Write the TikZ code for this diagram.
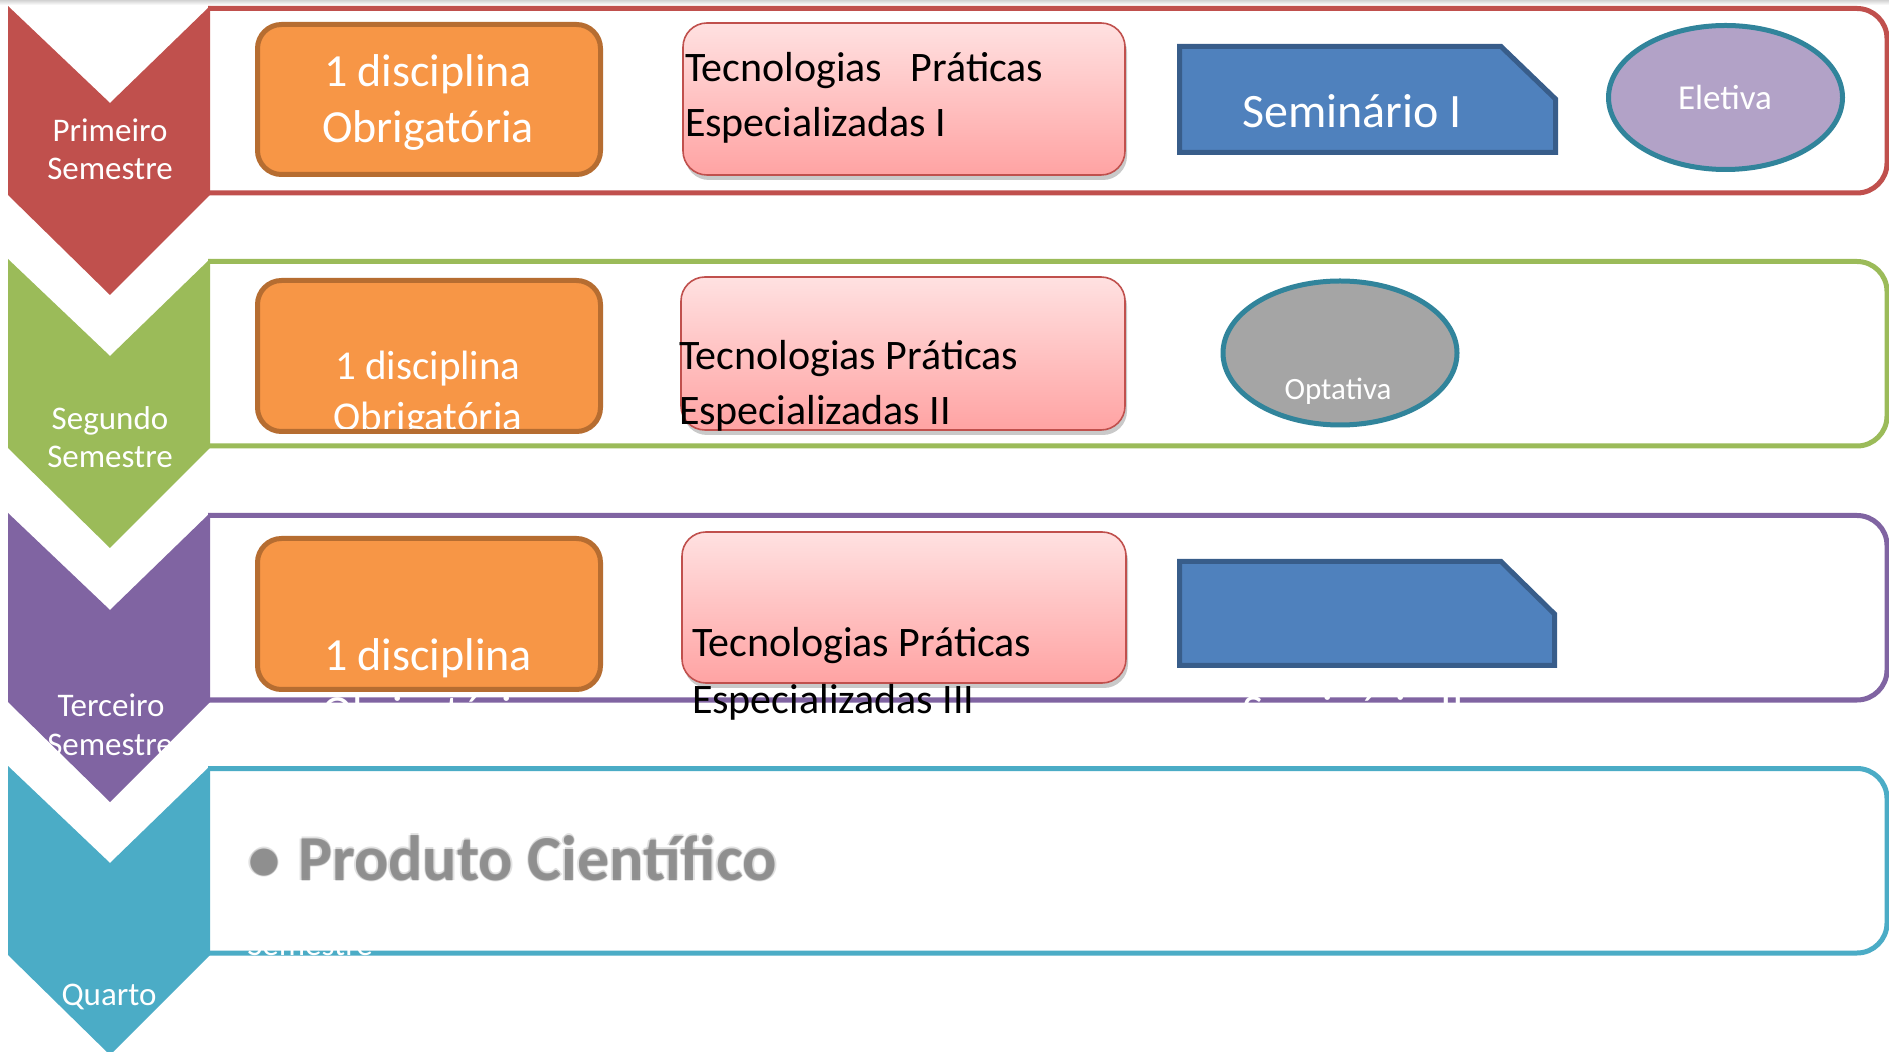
\documentclass[tikz,border=0pt]{standalone}
\usepackage{fontspec}
\setmainfont{Carlito}
\usetikzlibrary{shapes.geometric,shadows}
\definecolor{cRed}{HTML}{C0504D}
\definecolor{cGreen}{HTML}{9BBB59}
\definecolor{cPurple}{HTML}{8064A2}
\definecolor{cAqua}{HTML}{4BACC6}
\definecolor{cOrF}{HTML}{F79646}
\definecolor{cOrD}{HTML}{B66D31}
\definecolor{cBlF}{HTML}{4F81BD}
\definecolor{cBlD}{HTML}{385D8A}
\definecolor{cTeal}{HTML}{31849B}
\definecolor{cLil}{HTML}{B2A2C7}
\definecolor{cGry}{HTML}{A5A5A5}
\definecolor{cPkT}{HTML}{FFE1E1}
\definecolor{cPkB}{HTML}{FFA3A3}
\definecolor{cProd}{HTML}{8A8A8A}
\newcommand\fsz[1]{\fontsize{#1pt}{#1pt}\selectfont}
\begin{document}
\begin{tikzpicture}[x=0.5pt,y=-0.5pt,
 band/.style={draw=#1, line width=2.5pt, rounded corners=15pt},
 chev/.style={fill=#1},
 obox/.style={rectangle, fill=cOrF, draw=cOrD, line width=2.5pt, rounded corners=12pt, inner sep=0pt},
 pbox/.style={rectangle, top color=cPkT, bottom color=cPkB, draw=cRed, line width=0.8pt, rounded corners=12pt, inner sep=0pt,
   drop shadow={shadow xshift=1pt, shadow yshift=-2.5pt, opacity=0.35, fill=black!60}},
 semi/.style={fill=cBlF, draw=cBlD, line width=2.5pt},
 ell/.style={ellipse, draw=cTeal, line width=2.5pt, fill=#1, minimum width=117pt, minimum height=72pt, inner sep=0pt},
 txt/.style={inner sep=0pt, outer sep=0pt, anchor=base, text=white},
 ltxt/.style={inner sep=0pt, outer sep=0pt, anchor=base west, text=black}
]
\useasboundingbox (0,0) rectangle (1889,1052);
\fill[white] (0,0) rectangle (1889,1052);
\shade[top color=gray!35, bottom color=white] (0,0) rectangle (1889,5);

% bands (left end hidden under the chevrons)
\draw[band=cRed]    (208,8.5)   -- (1887,8.5)   -- (1887,193) -- (208,193);
\draw[band=cGreen]  (208,261.5) -- (1887,261.5) -- (1887,446) -- (208,446);
\draw[band=cPurple] (208,515.5) -- (1887,515.5) -- (1887,700) -- (208,700);
\draw[band=cAqua]   (208,768.5) -- (1887,768.5) -- (1887,953) -- (208,953);

% chevrons
\fill[chev=cRed]    (8,6)   -- (110,103) -- (210,6)   -- (210,195) -- (110,295)  -- (8,195) -- cycle;
\fill[chev=cGreen]  (8,259) -- (110,356) -- (210,259) -- (210,448) -- (110,548)  -- (8,448) -- cycle;
\fill[chev=cPurple] (8,513) -- (110,610) -- (210,513) -- (210,702) -- (110,802)  -- (8,702) -- cycle;
\fill[chev=cAqua]   (8,766) -- (110,863) -- (210,766) -- (210,955) -- (110,1055) -- (8,955) -- cycle;

% orange boxes
\node[obox, minimum width=171.5pt, minimum height=75pt]   (ob1) at (429,99.5) {};
\node[obox, minimum width=171.5pt, minimum height=75.5pt] (ob2) at (429,356) {};
\node[obox, minimum width=171.5pt, minimum height=75.5pt] (ob3) at (429,614) {};

% pink boxes
\node[pbox, minimum width=221pt, minimum height=76pt]   (pk1) at (904,99) {};
\node[pbox, minimum width=222pt, minimum height=76.5pt] (pk2) at (903,353.5) {};
\node[pbox, minimum width=222pt, minimum height=75.5pt] (pk3) at (904,607.5) {};

% seminario shapes
\draw[semi] (1179.5,46.5) -- (1501,46.5) -- (1555.5,99) -- (1555.5,152.5) -- (1179.5,152.5) -- cycle;
\draw[semi] (1179.5,561.5) -- (1501,561.5) -- (1554.5,614) -- (1554.5,665.5) -- (1179.5,665.5) -- cycle;

% ellipses
\node[ell=cLil] (el1) at (1725.5,97.5) {};
\node[ell=cGry] (op2) at (1340,353) {};

% ---- texts ----
% row 1
\node[txt, font=\fsz{16.5}] (l1a) at (110,142) {Primeiro};
\node[txt, font=\fsz{16.5}] (l1b) at (110,180) {Semestre};
\node[txt, font=\fsz{23}] (o1a) at (428,87) {1 disciplina};
\node[txt, font=\fsz{23}] (o1b) at (428,143) {Obrigatória};
\node[ltxt, font=\fsz{21}] (p1a) at (685,82) {Tecnologias\ \ \ Práticas};
\node[ltxt, font=\fsz{21}] (p1b) at (685,137) {Especializadas I};
\node[txt, font=\fsz{24}] (s1) at (1352,128) {Seminário I};
\node[txt, font=\fsz{17.5}] (e1) at (1725,110) {Eletiva};

% row 2
\node[txt, font=\fsz{16.5}] (l2a) at (110,430) {Segundo};
\node[txt, font=\fsz{16.5}] (l2b) at (110,468) {Semestre};
\begin{scope}
\clip (260,283) rectangle (598,429);
\node[txt, font=\fsz{20.5}] (o2a) at (428,380) {1 disciplina};
\node[txt, font=\fsz{20.5}] (o2b) at (428,431) {Obrigatória};
\end{scope}
\node[ltxt, font=\fsz{21}] (p2a) at (679,370) {Tecnologias Práticas};
\node[ltxt, font=\fsz{21}] (p2b) at (679,425) {Especializadas II};
\node[txt, font=\fsz{15.5}] (e2) at (1338,400) {Optativa};

% row 3
\node[txt, font=\fsz{16.5}] (l3a) at (111,717) {Terceiro};
\node[txt, font=\fsz{16.5}] (l3b) at (110,755) {Semestre};
\node[txt, font=\fsz{23}] (o3a) at (428,671) {1 disciplina};
\node[txt, font=\fsz{23}] (o3b) at (428,727) {Obrigatória};
\node[ltxt, font=\fsz{21}] (p3a) at (692,657) {Tecnologias Práticas};
\node[ltxt, font=\fsz{21}] (p3b) at (692,713) {Especializadas III};
\node[txt, font=\fsz{23}] (s3) at (1353,726) {Seminário II};

% row 4
\node[txt, font=\fsz{16.5}] (l4a) at (109,1005) {Quarto};
\node[txt, font=\fsz{16.5}] (l4b) at (310,955) {Semestre};
\foreach \dx/\dy [count=\i] in {-1.5/0,1.5/0,0/-1.5,0/1.5}{
  \node[ltxt, text=cProd, opacity=0.25, font=\fsz{32}\bfseries] (pb\i) at (298+\dx,880+\dy) {Produto Científico};
  \node[txt, text=cProd, opacity=0.25, font=\fsz{32}\bfseries] (bb\i) at (264+\dx,880+\dy) {•};
}
\node[ltxt, text=cProd, opacity=0.85, font=\fsz{32}\bfseries] (prod) at (298,880) {Produto Científico};
\node[txt, text=cProd, opacity=0.85, font=\fsz{32}\bfseries] (bul) at (264,880) {•};
\end{tikzpicture}
\end{document}
